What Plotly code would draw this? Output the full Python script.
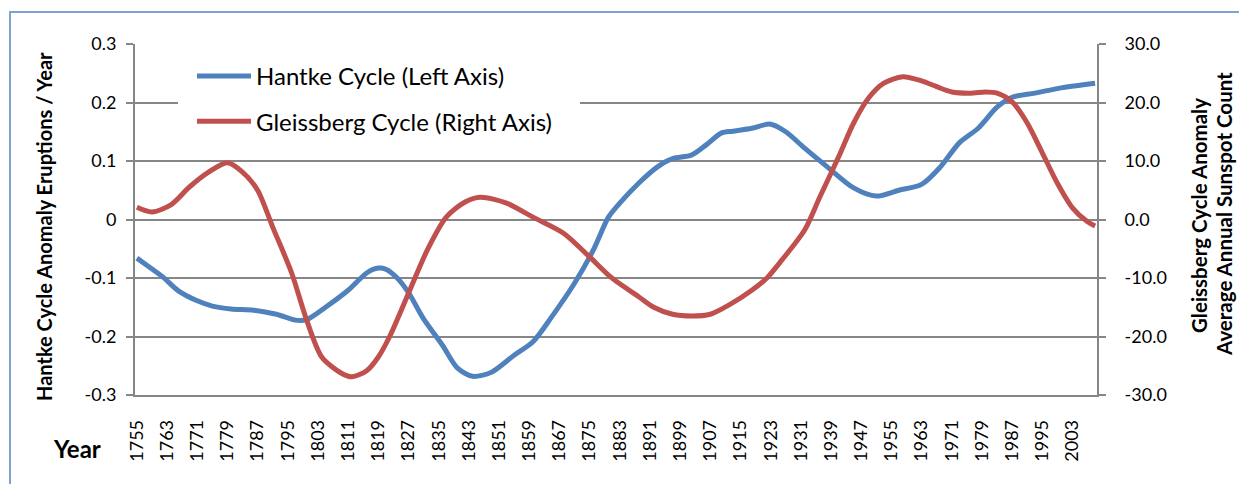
import plotly.graph_objects as go

# ---------------- data ----------------
hantke_years = [1755, 1758, 1762, 1766, 1771, 1775, 1780, 1786, 1792, 1797, 1800,
                1805, 1811, 1816, 1819, 1821, 1824, 1827, 1831, 1836, 1840, 1844,
                1849, 1855, 1860, 1865, 1871, 1876, 1880, 1883, 1888, 1893, 1897,
                1902, 1906, 1910, 1913, 1918, 1923, 1927, 1932, 1938, 1945, 1951,
                1957, 1963, 1968, 1973, 1978, 1983, 1987, 1993, 2000, 2009]
hantke_values = [-0.066, -0.080, -0.099, -0.122, -0.139, -0.148, -0.153, -0.155, -0.162,
                 -0.172, -0.171, -0.150, -0.121, -0.091, -0.083, -0.085, -0.100, -0.125,
                 -0.170, -0.215, -0.254, -0.268, -0.261, -0.232, -0.209, -0.166, -0.109,
                 -0.052, 0.004, 0.028, 0.062, 0.090, 0.104, 0.110, 0.128, 0.148, 0.151,
                 0.156, 0.163, 0.150, 0.122, 0.090, 0.054, 0.040, 0.050, 0.060, 0.090,
                 0.131, 0.156, 0.192, 0.209, 0.216, 0.225, 0.233]

gleiss_years = [1755, 1759, 1764, 1769, 1774, 1779, 1783, 1787, 1791, 1796, 1800,
                1804, 1809, 1812, 1816, 1819, 1822, 1827, 1832, 1837, 1842, 1846,
                1853, 1860, 1868, 1875, 1880, 1883, 1888, 1892, 1897, 1902, 1907,
                1912, 1918, 1922, 1926, 1932, 1936, 1941, 1945, 1949, 1953, 1958,
                1963, 1967, 1971, 1976, 1980, 1983, 1987, 1991, 1995, 1999, 2003,
                2007, 2009]
gleiss_values = [2.1, 1.3, 2.5, 5.6, 8.1, 9.7, 8.1, 5.0, -1.3, -9.1, -17.2,
                 -23.5, -26.2, -26.9, -25.8, -23.5, -20.0, -12.6, -5.2, 0.4, 3.0, 3.8,
                 2.8, 0.4, -2.3, -6.4, -9.5, -11.0, -13.2, -15.0, -16.2, -16.5, -16.2,
                 -14.6, -12.1, -10.0, -6.9, -1.8, 3.8, 10.7, 16.5, 20.8, 23.3, 24.4,
                 23.7, 22.7, 21.8, 21.6, 21.8, 21.6, 20.1, 16.5, 11.4, 6.2, 2.0,
                 -0.4, -1.1]

left_ticks = [-0.3, -0.2, -0.1, 0, 0.1, 0.2, 0.3]
left_labels = ["-0.3", "-0.2", "-0.1", "0", "0.1", "0.2", "0.3"]
right_ticks = [-30, -20, -10, 0, 10, 20, 30]
right_labels = ["-30.0", "-20.0", "-10.0", "0.0", "10.0", "20.0", "30.0"]
year_ticks = list(range(1755, 2010, 8))
year_labels = [str(y) for y in year_ticks]

# ---------------- layout helpers ----------------
OFF = 8  # page body margin of the html page
W, H = 1247 - OFF, 484 - OFF
L, T, R, B = 135, 44, 1097, 395   # plot area in page pixels
PW, PH = R - L, B - T


def px(x):
    return (x - L) / PW


def py(y):
    return 1 - (y - T) / PH


FONT = "Lato, 'Open Sans', sans-serif"
GRID = "#868686"
BLUE = "#4F81BD"
RED = "#C0504D"

fig = go.Figure()
fig.add_trace(go.Scatter(x=hantke_years, y=hantke_values, mode="lines",
                         name="Hantke Cycle (Left Axis)", legendgroup="a",
                         line=dict(color=BLUE, width=5, shape="spline", smoothing=0.8),
                         yaxis="y"))
fig.add_trace(go.Scatter(x=gleiss_years, y=gleiss_values, mode="lines",
                         name="Gleissberg Cycle (Right Axis)", legendgroup="b",
                         line=dict(color=RED, width=5, shape="spline", smoothing=0.8),
                         yaxis="y2"))

fig.update_layout(
    width=W, height=H,
    margin=dict(l=L - OFF, r=W - (R - OFF), t=T - OFF, b=H - (B - OFF), pad=0),
    paper_bgcolor="white", plot_bgcolor="white",
    font=dict(family=FONT, color="black"),
    showlegend=True,
    legend=dict(x=px(192), y=py(54), xanchor="left", yanchor="top",
                bgcolor="white", font=dict(size=24, family=FONT),
                traceorder="grouped", tracegroupgap=11, itemwidth=54),
    xaxis=dict(range=[1754.5, 2009.5], tickmode="array", tickvals=year_ticks,
               ticktext=year_labels, tickangle=-90, ticks="", showgrid=False,
               showline=True, linecolor=GRID, linewidth=1.5, zeroline=False,
               tickfont=dict(size=18, family=FONT), ticklabelstandoff=16),
    yaxis=dict(range=[-0.3, 0.3], tickmode="array", tickvals=left_ticks,
               ticktext=left_labels, ticks="outside", ticklen=7, tickcolor=GRID,
               tickwidth=1.5, showgrid=True, gridcolor=GRID, gridwidth=1.5,
               showline=True, linecolor=GRID, linewidth=2, zeroline=False,
               tickfont=dict(size=18, family=FONT), ticklabelstandoff=6),
    yaxis2=dict(range=[-30, 30], overlaying="y", side="right", tickmode="array",
                tickvals=right_ticks, ticktext=right_labels, ticks="outside",
                ticklen=7, tickcolor=GRID, tickwidth=1.5, showgrid=False,
                showline=True, linecolor=GRID, linewidth=2, zeroline=False,
                tickfont=dict(size=18, family=FONT), ticklabelstandoff=15),
)

annots = [
    dict(text="<b>Hantke Cycle Anomaly Eruptions / Year</b>", x=px(44), y=py(227),
         textangle=-90, font=dict(size=20, family=FONT)),
    dict(text="<b>Gleissberg Cycle Anomaly</b>", x=px(1199), y=py(216),
         textangle=-90, font=dict(size=20.5, family=FONT)),
    dict(text="<b>Average Annual Sunspot Count</b>", x=px(1224), y=py(214),
         textangle=-90, font=dict(size=20.5, family=FONT)),
    dict(text="<b>Year</b>", x=px(77), y=py(448), font=dict(size=24, family=FONT)),
]
for a in annots:
    fig.add_annotation(xref="paper", yref="paper", showarrow=False,
                       xanchor="center", yanchor="middle", **a)

# white gap in the 0.2 gridline behind the legend
fig.add_shape(type="rect", xref="paper", yref="paper", layer="above",
              x0=px(178), x1=px(580), y0=py(110), y1=py(94),
              line=dict(width=0), fillcolor="white")

fig.add_shape(type="rect", xref="paper", yref="paper",
              x0=px(10), x1=px(1270), y0=py(510), y1=py(12),
              line=dict(color="#7BA3D6", width=2), fillcolor="rgba(0,0,0,0)")

fig.write_html("out.html")
